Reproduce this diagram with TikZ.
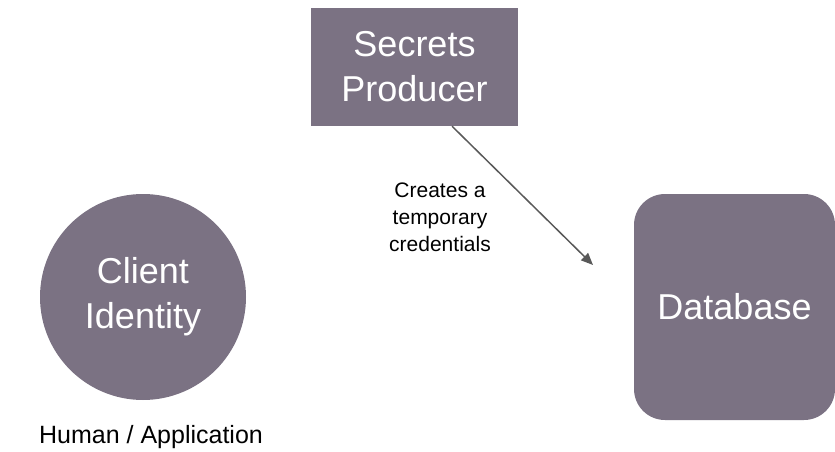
\documentclass[tikz,border=0pt]{standalone}
\usepackage{fontspec}
\setmainfont{Liberation Sans}
\usetikzlibrary{calc,arrows.meta}
\definecolor{boxgray}{RGB}{123,114,131}
\definecolor{arrowgray}{RGB}{89,89,89}

\begin{document}
\begin{tikzpicture}[x=1pt,y=-1pt,
		block/.style={fill=boxgray,text=white,inner sep=0pt,align=center,font=\fontsize{36}{45}\selectfont},
		note/.style={align=center,inner sep=0pt}]
				\useasboundingbox (0,0) rectangle (835,452);
				
				\node[block,minimum width=207pt,minimum height=118pt] (prod) at (414.5,67) {Secrets\\Producer};
				
				\node[block,circle,minimum size=206pt] (client) at (143,297) {Client\\Identity};
				\node[note,font=\fontsize{25}{30}\selectfont] (human) at (151,437) {Human / Application};
				
				\node[block,rounded corners=31pt,minimum width=201pt,minimum height=226pt] (db) at (734.5,307) {Database};
				
				\coordinate (tip) at (593,265);
				\draw[arrowgray,line width=1.5pt,-{Triangle[length=12pt,width=10pt]}] ($(prod.south west)!0.681!(prod.south east)$) -- (tip);
				\node[note,font=\fontsize{21}{27}\selectfont] (creates) at (440,217) {Creates a\\temporary\\credentials};
			\end{tikzpicture}
\end{document}
